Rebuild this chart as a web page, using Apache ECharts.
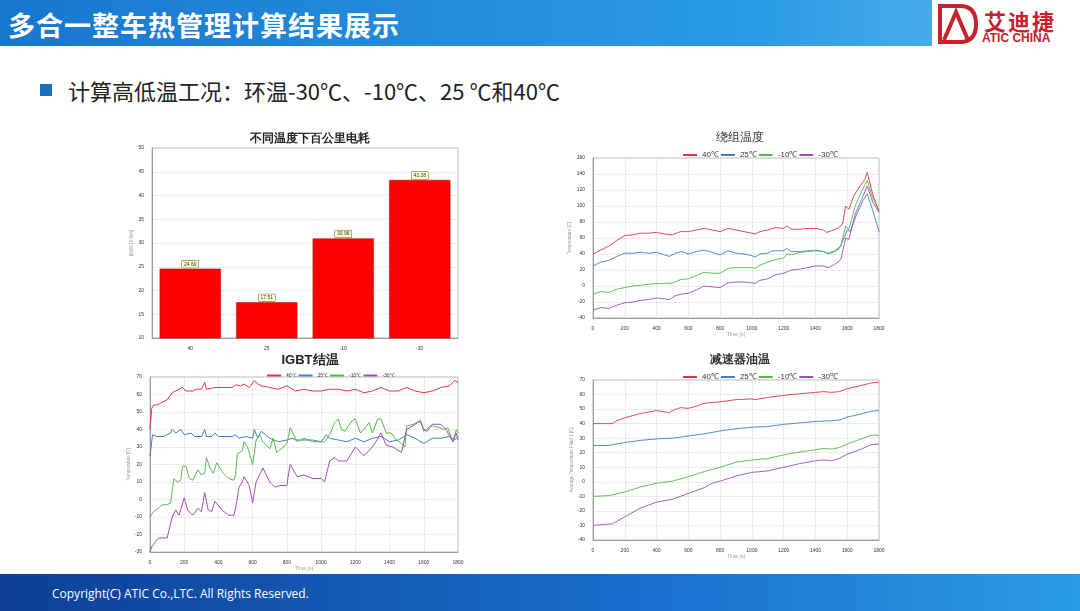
<!DOCTYPE html>
<html><head><meta charset="utf-8">
<script src="https://cdn.jsdelivr.net/npm/echarts@6/dist/echarts.min.js"></script>
<style>
body{margin:0;width:1080px;height:611px;overflow:hidden;background:#fff;font-family:"Noto Sans CJK SC","Noto Sans",sans-serif;position:relative}
#hdr{position:absolute;left:0;top:0;width:1080px;height:46px;background:linear-gradient(90deg,#1877cf,#2a9be6 70%,#5fb9ef);}
#hdr .t{position:absolute;left:8px;top:5px;color:#fff;font-size:27px;font-weight:bold;letter-spacing:1px}
#logo{position:absolute;right:0;top:0;width:148px;height:48px;background:#fff}
#bul{position:absolute;left:40px;top:84px;width:12px;height:12px;background:#1a6fc0}
#sub{position:absolute;left:68px;top:74px;font-size:22px;color:#222}
#ftr{position:absolute;left:0;top:574px;width:1080px;height:37px;background:linear-gradient(90deg,#0d3f96,#1a6fcf 60%,#2a9be6)}
#ftr span{position:absolute;left:52px;top:11px;color:#fff;font-size:12px;font-family:"Open Sans",sans-serif}
#c{position:absolute;left:0;top:0;width:1080px;height:611px}
</style></head><body>
<div id="hdr"><div class="t">多合一整车热管理计算结果展示</div></div>
<div id="logo">
<svg width="148" height="48"><path d="M8 6 L28 6 Q44 6 44 24 Q44 42 28 42 L8 42 Z" fill="none" stroke="#c8202c" stroke-width="4"/><path d="M12 40 L24 12 L36 40" fill="none" stroke="#c8202c" stroke-width="4"/></svg>
<div style="position:absolute;left:52px;top:4px;font-size:22px;color:#c8202c;font-weight:bold;letter-spacing:2px">艾迪捷</div>
<div style="position:absolute;left:50px;top:31px;font-size:12px;color:#c8202c;font-family:'Liberation Sans';font-weight:bold">ATIC CHINA</div>
</div>
<div id="bul"></div>
<div id="sub">计算高低温工况：环温-30℃、-10℃、25 ℃和40℃</div>
<div id="ftr"><span>Copyright(C) ATIC Co.,LTC. All Rights Reserved.</span></div>
<div id="c"></div>
<script>
const barCats=['40','25','-10','-30'];
const barVals=[24.60,17.51,30.96,43.28];
const legendNames=['40℃','25℃','-10℃','-30℃'];
const colors=['#e3343c','#3f7fc4','#55b84c','#a24cb6'];

const wind40=[[0,40],[50,45],[100,50],[150,57],[200,63],[250,64],[300,66],[350,66],[400,67],[450,65],[500,64],[550,68],[600,68],[650,70],[700,72],[750,70],[800,68],[850,72],[900,70],[950,68],[1000,66],[1020,65],[1050,68],[1100,70],[1150,73],[1200,72],[1220,75],[1250,71],[1300,71],[1350,72],[1400,72],[1450,70],[1470,67],[1500,69],[1540,72],[1570,77],[1590,100],[1610,96],[1640,112],[1680,125],[1710,133],[1726,142],[1760,115],[1800,93]];
const wind25=[[0,25],[50,30],[100,32],[150,37],[200,41],[250,41],[300,42],[350,41],[400,42],[450,39],[480,37],[520,41],[560,43],[600,40],[650,43],[700,45],[750,42],[800,39],[850,44],[900,41],[950,40],[1000,38],[1020,36],[1050,40],[1100,41],[1130,44],[1200,44],[1220,47],[1250,43],[1300,43],[1350,44],[1400,44],[1450,43],[1480,40],[1520,43],[1550,47],[1580,60],[1600,70],[1620,68],[1660,90],[1700,107],[1726,115],[1760,95],[1800,68]];
const windM10=[[0,-10],[50,-7],[100,-8],[150,-4],[200,-2],[250,0],[300,1],[350,2],[400,3],[450,3],[500,4],[550,8],[600,9],[650,13],[700,17],[750,16],[800,16],[850,22],[900,23],[950,23],[1000,23],[1020,22],[1050,26],[1100,30],[1150,33],[1200,35],[1220,40],[1250,39],[1300,42],[1350,43],[1400,45],[1450,43],[1480,41],[1520,44],[1560,50],[1590,75],[1610,70],[1650,100],[1690,118],[1726,132],[1760,110],[1800,95]];
const windM30=[[0,-30],[50,-27],[100,-28],[150,-24],[200,-21],[250,-20],[300,-18],[350,-17],[400,-15],[450,-16],[480,-17],[520,-12],[560,-10],[600,-9],[650,-5],[700,0],[750,-1],[800,-2],[850,4],[900,5],[950,5],[1000,4],[1020,3],[1050,7],[1100,9],[1150,14],[1200,16],[1250,20],[1300,21],[1350,23],[1400,25],[1450,25],[1480,23],[1520,27],[1560,33],[1590,60],[1610,58],[1650,90],[1690,108],[1726,125],[1760,105],[1800,92]];

const igbt40=[[0,40],[10,52],[20,54],[40,54],[60,55],[100,57],[130,61],[150,62],[170,63],[190,64],[210,62],[250,62],[270,63],[300,63],[320,67],[330,63],[380,64],[400,64],[480,64],[500,65.5],[530,65],[550,66],[580,64],[610,68],[630,66],[650,65],[700,64],[750,63],[800,65],[850,62],[900,63],[950,62],[1000,62],[1050,63],[1100,63],[1150,62],[1200,63],[1250,61],[1300,62],[1350,64],[1400,62],[1450,62],[1500,64],[1550,62],[1600,61],[1650,62],[1700,64],[1750,65],[1780,68],[1800,67]];
const igbt25=[[0,25],[15,37],[40,36],[80,36],[120,38],[130,40],[150,38],[180,40],[200,37],[240,38],[260,36],[300,36],[320,40],[330,36],[360,36],[380,38],[400,36],[480,36],[500,37],[520,35],[560,36],[600,35],[610,40],[630,35],[650,39],[700,35],[750,33],[800,34],[830,35],[850,34],[900,34],[950,34],[1000,33],[1030,37],[1050,35],[1100,34],[1150,33],[1200,35],[1250,33],[1300,35],[1350,36],[1400,33],[1450,34],[1500,37],[1550,35],[1600,32],[1650,35],[1700,35],[1750,36],[1780,34],[1800,36]];
const igbtM10=[[0,-10],[20,-7],[50,-5],[70,-3],[100,-3],[120,-2],[130,5],[140,12],[160,10],[180,11],[190,19],[210,19],[230,12],[250,11],[280,17],[300,14],[320,15],[330,24],[350,18],[370,15],[390,21],[420,16],[460,12],[490,11],[500,14],[510,26],[540,28],[550,33],[570,30],[600,20],[620,34],[640,37],[660,33],[700,29],[720,35],[740,27],[780,30],[800,32],[820,41],[860,33],[900,35],[950,33],[1000,33],[1020,33],[1050,37],[1080,44],[1100,46],[1120,40],[1140,39],[1180,45],[1200,46],[1230,38],[1250,40],[1280,44],[1300,38],[1330,46],[1350,46],[1380,38],[1410,38],[1440,34],[1470,32],[1490,30],[1500,42],[1540,43],[1580,45],[1600,39],[1640,42],[1660,42],[1720,40],[1740,41],[1770,33],[1790,40],[1800,38]];
const igbtM30=[[0,-30],[10,-27],[50,-22],[100,-22],[110,-21],[130,-10],[150,-6],[170,-9],[200,1],[220,-6],[250,-9],[280,-5],[300,-7],[320,4],[340,-6],[360,-7],[380,-1],[420,-6],[460,-9],[490,-9],[500,-5],[520,7],[540,10],[550,13],[580,8],[600,-2],[620,10],[640,14],[660,18],[700,10],[730,7],[760,8],[800,8],[810,15],[820,20],[860,13],[900,14],[950,12],[1000,12],[1020,10],[1050,22],[1080,24],[1100,22],[1150,22],[1200,30],[1250,25],[1300,30],[1320,33],[1350,38],[1380,31],[1420,30],[1450,28],[1470,27],[1500,40],[1550,43],[1580,45],[1600,40],[1620,39],[1650,43],[1700,43],[1730,40],[1770,33],[1790,38],[1800,34]];

const oil40=[[0,40],[100,40],[120,40],[150,42],[200,44],[300,47],[400,49],[480,47.5],[500,49],[550,51],[600,50.5],[650,52],[700,54],[800,55],[900,56.5],[1000,57],[1020,56.5],[1100,58],[1200,59.5],[1300,60.5],[1400,61.5],[1450,62],[1500,61.5],[1550,62],[1600,64],[1700,66.5],[1750,68],[1800,68.5]];
const oil25=[[0,25],[100,25],[120,25.5],[200,27],[300,28.5],[400,29.5],[500,30],[600,31.5],[700,33],[800,35],[900,36.5],[1000,37.5],[1100,38],[1200,39.5],[1300,40.5],[1400,41.5],[1500,42],[1550,42.5],[1600,44.5],[1700,47],[1750,48.5],[1800,49]];
const oilM10=[[0,-10],[100,-9.5],[120,-9],[200,-7],[300,-3.5],[400,-1],[500,0.5],[600,3.5],[700,7],[800,10],[900,13.5],[1000,15],[1100,16],[1200,18.5],[1300,20.5],[1400,22],[1450,23],[1500,22.5],[1550,23.5],[1600,26],[1700,30],[1750,32],[1800,32]];
const oilM30=[[0,-30],[100,-29],[120,-29],[200,-24],[300,-18],[400,-14],[500,-12],[600,-8],[700,-4],[750,-1],[800,0.5],[900,4],[1000,6.5],[1100,7.5],[1200,10],[1300,12.5],[1400,14.5],[1450,15],[1500,14.5],[1550,16],[1600,19],[1700,23],[1750,25.5],[1800,26]];

const ax={fontSize:5,color:'#333',formatter:v=>String(v)};
const gl={show:true,lineStyle:{color:'#ddd',width:0.6}};
const axl={onZero:false,lineStyle:{color:'#999'}};
function xTime(gi){return {type:'value',gridIndex:gi,min:0,max:1800,interval:200,axisLabel:ax,splitLine:gl,axisLine:axl,axisTick:{show:false},name:'Time [s]',nameLocation:'middle',nameGap:9,nameTextStyle:{fontSize:5}};}
function yT(gi,mn,mx,iv,nm){return {type:'value',gridIndex:gi,min:mn,max:mx,interval:iv,axisLabel:ax,splitLine:gl,axisLine:{show:true,onZero:false,lineStyle:{color:'#999'}},axisTick:{show:false},name:nm,nameLocation:'middle',nameGap:18,nameTextStyle:{fontSize:4.5}};}
const sets=[[wind40,wind25,windM10,windM30],[igbt40,igbt25,igbtM10,igbtM30],[oil40,oil25,oilM10,oilM30]];
const series=[{type:'bar',xAxisIndex:0,yAxisIndex:0,data:barVals,barWidth:'80%',itemStyle:{color:'#ff0000',borderColor:'#a00',borderWidth:0.5},
 label:{show:true,position:'top',fontSize:5,color:'#333',backgroundColor:'#ffffcc',borderColor:'#555',borderWidth:0.5,padding:[1,2],distance:1,formatter:p=>p.value.toFixed(2)}}];
sets.forEach((s,k)=>s.forEach((d,i)=>series.push({type:'line',name:legendNames[i],xAxisIndex:k+1,yAxisIndex:k+1,data:d,showSymbol:false,lineStyle:{width:k==1?1:0.9,color:colors[i]},itemStyle:{color:colors[i]}})));
function leg(top,left,sz){return {top:top,left:left,itemWidth:14,itemHeight:2,itemGap:2,icon:'rect',textStyle:{fontSize:sz,color:'#333'},data:legendNames,selectedMode:false};}
const gb={show:true,borderColor:'#aaa',borderWidth:0.8};
const chart=echarts.init(document.getElementById('c'));
chart.setOption({animation:false,
 title:[{text:'不同温度下百公里电耗',left:305,top:128,textAlign:'center',textStyle:{fontSize:12,fontWeight:'bold',color:'#222'}},
 {text:'绕组温度',left:735,top:127,textAlign:'center',textStyle:{fontSize:12,fontWeight:'normal',color:'#333'}},
 {text:'IGBT结温',left:305,top:349,textAlign:'center',textStyle:{fontSize:13,fontWeight:'bold',color:'#222'}},
 {text:'减速器油温',left:735,top:349,textAlign:'center',textStyle:{fontSize:12,fontWeight:'bold',color:'#333'}}],
 legend:[leg(146,678,8),leg(368,262,5),leg(368,678,8)],
 grid:[Object.assign({left:152,top:148,width:306,height:190},gb),Object.assign({left:593,top:158,width:286,height:160},gb),Object.assign({left:150,top:377,width:308,height:175},gb),Object.assign({left:593,top:380,width:286,height:160},gb)],
 xAxis:[{type:'category',gridIndex:0,data:barCats,axisLabel:ax,axisTick:{show:false},axisLine:axl},xTime(1),xTime(2),xTime(3)],
 yAxis:[Object.assign(yT(0,10,50,5,'[kWh/100km]'),{nameGap:16}),yT(1,-40,160,20,'Temperature [C]'),yT(2,-30,70,10,'Temperature [C]'),yT(3,-40,70,10,'Average Temperature Fluid 1 [C]')],
 series:series});
</script></body></html>
